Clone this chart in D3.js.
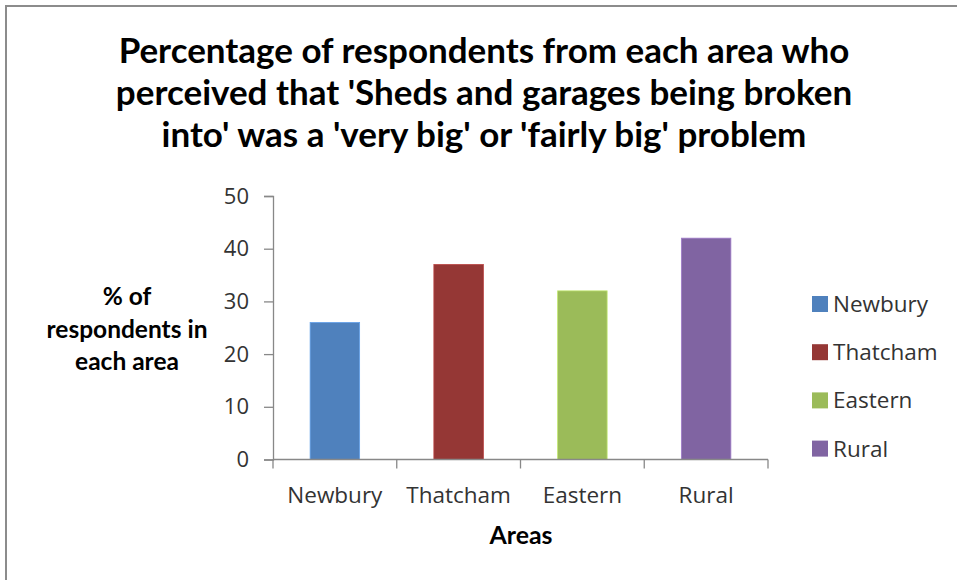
<!DOCTYPE html>
<html><head><meta charset="utf-8">
<script src="https://cdn.jsdelivr.net/npm/d3@7"></script>
<style>body{margin:0;background:#fff}svg{display:block}</style>
</head><body>
<svg id="c" width="957" height="580"></svg>
<script>
const categories = ["Newbury", "Thatcham", "Eastern", "Rural"];
const values = [26, 37, 32, 42];
const colors = ["#4F81BD", "#953735", "#9BBB59", "#8064A2"];
const yTicks = [0, 10, 20, 30, 40, 50];
const titleLines = ["Percentage of respondents from each area who",
  "perceived that 'Sheds and garages being broken",
  "into' was a 'very big' or 'fairly big' problem"];
const yTitleLines = ["% of", "respondents in", "each area"];
const xTitle = "Areas";

const svg = d3.select("#c");
const F = "'Open Sans', sans-serif";
const FB = "Lato, 'Open Sans', sans-serif";

function fit(sel, node, target) {
  const w = node.getComputedTextLength();
  sel.attr("font-size", 100 * target / w);
}

// outer border
svg.append("rect").attr("x", 6).attr("y", 6).attr("width", 1000).attr("height", 700)
  .attr("fill", "#fff").attr("stroke", "#8c8c8c").attr("stroke-width", 2);

const y = d3.scaleLinear().domain([0, 50]).range([459.5, 196]);
const x = d3.scaleBand().domain(categories).range([273, 768]).paddingInner(0.6).paddingOuter(0.3);

// title
const tl = svg.append("g").selectAll("text").data(titleLines).join("text")
  .attr("x", 484).attr("y", (d, i) => 63 + i * 42)
  .attr("text-anchor", "middle").attr("font-family", FB).attr("font-weight", "bold")
  .attr("font-size", 100).attr("fill", "#000").text(d => d);
fit(tl, tl.nodes()[0], 731);

// bars
svg.append("g").selectAll("rect").data(values).join("rect")
  .attr("x", (d, i) => x(categories[i]))
  .attr("y", d => y(d))
  .attr("width", x.bandwidth())
  .attr("height", d => y(0) - y(d))
  .attr("fill", (d, i) => colors[i])
  .attr("stroke", (d, i) => d3.color(colors[i]).brighter(0.6))
  .attr("stroke-width", 0.8);

// y axis
const yAxis = svg.append("g").attr("transform", "translate(273,0)")
  .call(d3.axisLeft(y).tickValues(yTicks).tickSize(9).tickPadding(15).tickFormat(d3.format("d")));
yAxis.select(".domain").attr("stroke", "#888").attr("stroke-width", 1.3);
yAxis.selectAll(".tick line").attr("stroke", "#888").attr("stroke-width", 1.3);
yAxis.selectAll(".tick text").attr("font-family", F).attr("font-size", 22).attr("fill", "#333");

// x axis
const step = x.step();
const bounds = d3.range(categories.length + 1).map(i => 273 + i * step);
const xAxis = svg.append("g");
xAxis.append("line").attr("x1", 273).attr("x2", 768).attr("y1", y(0)).attr("y2", y(0))
  .attr("stroke", "#888").attr("stroke-width", 1.3);
xAxis.selectAll("line.t").data(bounds).join("line").attr("class", "t")
  .attr("x1", d => d).attr("x2", d => d).attr("y1", y(0)).attr("y2", y(0) + 9)
  .attr("stroke", "#888").attr("stroke-width", 1.3);
xAxis.selectAll("text").data(categories).join("text")
  .attr("x", d => x(d) + x.bandwidth() / 2).attr("y", 503)
  .attr("text-anchor", "middle").attr("font-family", F).attr("font-size", 22.5)
  .attr("fill", "#333").text(d => d);

// axis titles
const xt = svg.append("text").attr("x", 521).attr("y", 544).attr("text-anchor", "middle")
  .attr("font-family", FB).attr("font-weight", "bold").attr("font-size", 100)
  .attr("fill", "#000").text(xTitle);
fit(xt, xt.node(), 63);
const yt = svg.append("g").selectAll("text").data(yTitleLines).join("text")
  .attr("x", 127).attr("y", (d, i) => 305 + i * 32.5).attr("text-anchor", "middle")
  .attr("font-family", FB).attr("font-weight", "bold").attr("font-size", 100)
  .attr("fill", "#000").text(d => d);
fit(yt, yt.nodes()[1], 161);

// legend
const leg = svg.append("g").selectAll("g").data(categories).join("g")
  .attr("transform", (d, i) => `translate(812,${304 + i * 48.2})`);
leg.append("rect").attr("x", 0).attr("y", -8).attr("width", 16).attr("height", 16)
  .attr("fill", (d, i) => colors[i]);
leg.append("text").attr("x", 21).attr("y", 8).attr("font-family", F).attr("font-size", 22.5)
  .attr("fill", "#333").text(d => d);
</script>
</body></html>
